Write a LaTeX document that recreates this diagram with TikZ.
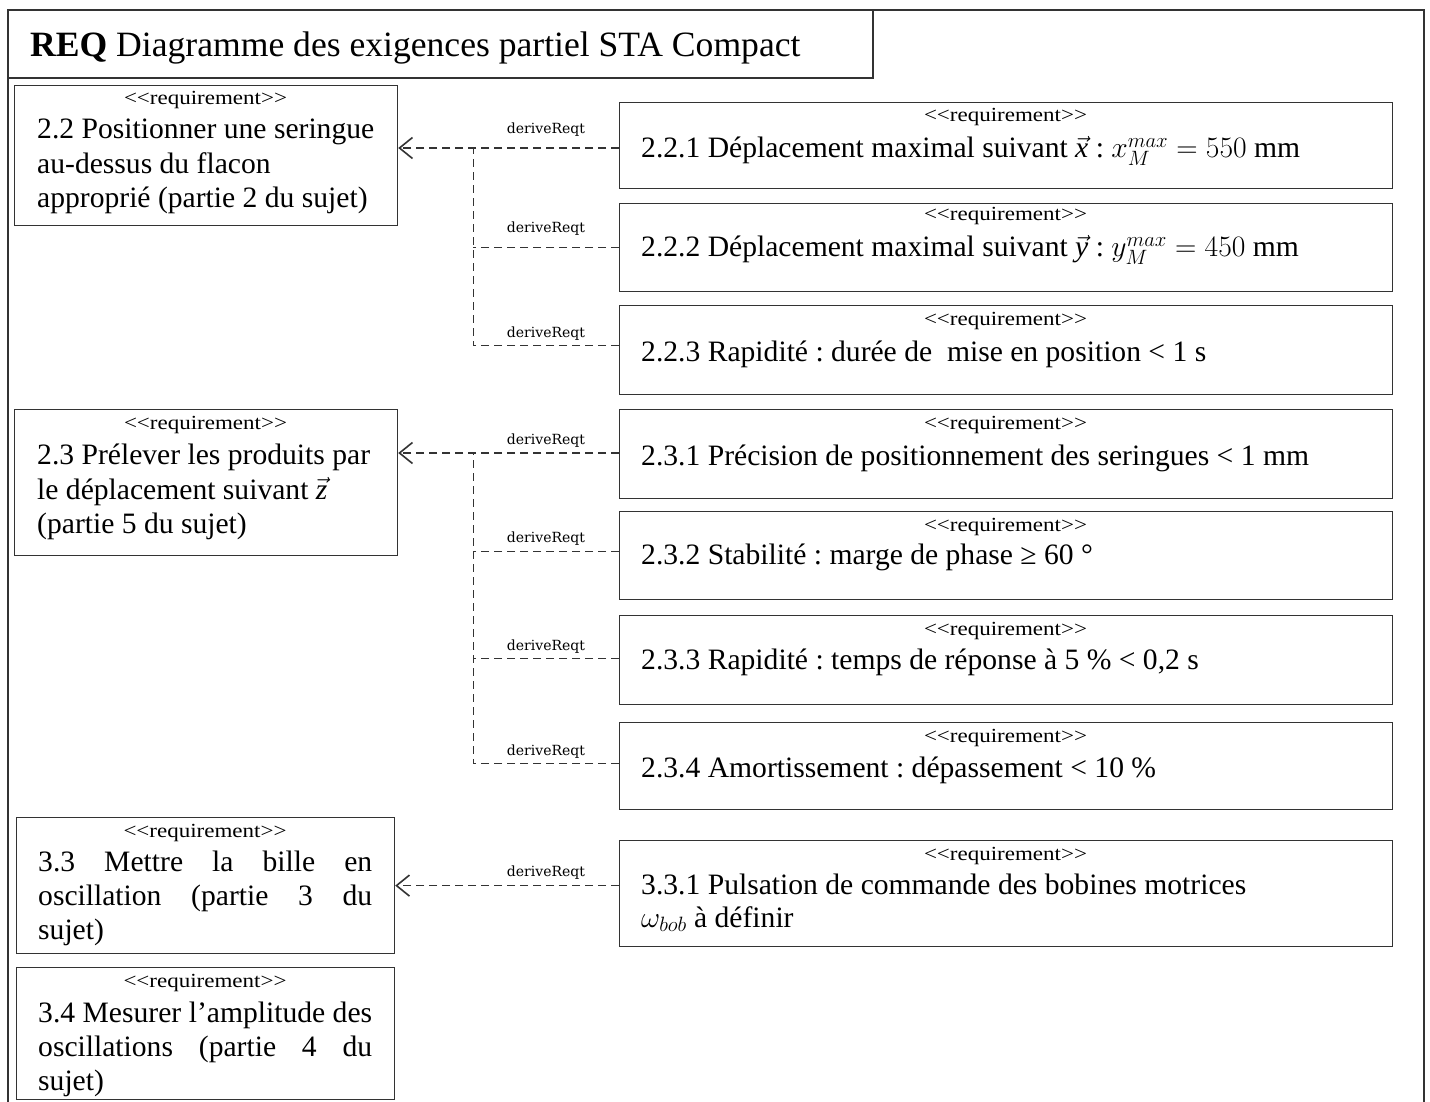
\RequirePackage{fix-cm}
\documentclass[tikz,border=0pt]{standalone}
\usepackage{fontspec}
\setmainfont{Liberation Serif}
\newfontfamily\stereofont[FakeStretch=1.15]{Liberation Serif}
\newfontfamily\linkfont{DejaVu Serif}
\usetikzlibrary{arrows.meta,calc}
\frenchspacing

\tikzset{
  framepen/.style={draw=black!80, line width=1.2pt},
  reqbox/.style={draw=black!80, line width=1.2pt, rectangle, inner sep=0pt, anchor=north west},
  stereo/.style={inner sep=0pt, anchor=base, font=\stereofont\fontsize{20}{24}\selectfont},
  reqtext/.style={inner sep=0pt, anchor=base west, font=\fontsize{29.6}{35}\selectfont},
  deprel/.style={draw=black!80, line width=1.3pt, dash pattern=on 8pt off 5pt},
  deptip/.style={deprel, -{Straight Barb[length=13pt,width=21pt,line width=1.6pt]}},
  branch/.style={draw=black!80, line width=0.9pt, dash pattern=on 8pt off 5pt},
  linklabel/.style={inner sep=0pt, anchor=base, font=\linkfont\fontsize{14}{16}\selectfont},
}

\begin{document}
\begin{tikzpicture}[x=1pt,y=-1pt]
\useasboundingbox (0,0) rectangle (1430,1102);
\fill[white] (0,0) rectangle (1430,1102);

% outer frame and title tab
\draw[framepen] (8,1102) -- (8,10) -- (1424,10) -- (1424,1102);
\draw[framepen] (8,78) -- (873,78) -- (873,10);
\node[inner sep=0pt, anchor=base west, font=\fontsize{35.6}{40}\selectfont] (title) at (30,57)
  {\textbf{REQ} Diagramme des exigences partiel STA Compact};

% parent requirements (left column)
\node[reqbox, minimum width=383pt, minimum height=140pt] (b22) at (14,85) {};
\node[reqbox, minimum width=383pt, minimum height=146pt] (b23) at (14,409) {};
\node[reqbox, minimum width=378pt, minimum height=136pt] (b33) at (16,817) {};
\node[reqbox, minimum width=378pt, minimum height=132pt] (b34) at (16,967) {};

% derived requirements (right column)
\node[reqbox, minimum width=773pt, minimum height=86pt]  (b221) at (619,102) {};
\node[reqbox, minimum width=773pt, minimum height=88pt]  (b222) at (619,203) {};
\node[reqbox, minimum width=773pt, minimum height=89pt]  (b223) at (619,305) {};
\node[reqbox, minimum width=773pt, minimum height=89pt]  (b231) at (619,409) {};
\node[reqbox, minimum width=773pt, minimum height=88pt]  (b232) at (619,511) {};
\node[reqbox, minimum width=773pt, minimum height=89pt]  (b233) at (619,615) {};
\node[reqbox, minimum width=773pt, minimum height=87pt]  (b234) at (619,722) {};
\node[reqbox, minimum width=773pt, minimum height=106pt] (b331) at (619,840) {};

% texts of the left column
\node[stereo] (s22) at (205.5,105) {<<requirement>>};
\node[reqtext] (t22a) at (37,139) {2.2 Positionner une seringue};
\node[reqtext] (t22b) at (37,174) {au-dessus du flacon};
\node[reqtext] (t22c) at (37,208) {approprié (partie 2 du sujet)};

\node[stereo] (s23) at (205.5,429) {<<requirement>>};
\node[reqtext] (t23a) at (37,464) {2.3 Prélever les produits par};
\node[reqtext] (t23b) at (37,499) {le déplacement suivant $\vec{\mathit{z}}$};
\node[reqtext] (t23c) at (37,533) {(partie 5 du sujet)};

\node[stereo] (s33) at (205,837) {<<requirement>>};
\node[reqtext] (t33a) at (38,871) {\makebox[334pt][s]{3.3 Mettre la bille en}};
\node[reqtext] (t33b) at (38,905) {\makebox[334pt][s]{oscillation (partie 3 du}};
\node[reqtext] (t33c) at (38,939) {sujet)};

\node[stereo] (s34) at (205,987) {<<requirement>>};
\node[reqtext] (t34a) at (38,1022) {\makebox[334pt][s]{3.4 Mesurer l’amplitude des}};
\node[reqtext] (t34b) at (38,1056) {\makebox[334pt][s]{oscillations (partie 4 du}};
\node[reqtext] (t34c) at (38,1090) {sujet)};

% texts of the right column
\node[stereo] (s221) at (1005.5,122) {<<requirement>>};
\node[reqtext] (t221) at (641,158) {2.2.1 Déplacement maximal suivant $\vec{\mathit{x}}$ : $x_M^{max} = 550\ \mathrm{mm}$};
\node[stereo] (s222) at (1005.5,221) {<<requirement>>};
\node[reqtext] (t222) at (641,257) {2.2.2 Déplacement maximal suivant $\vec{\mathit{y}}$ : $y_M^{max} = 450\ \mathrm{mm}$};
\node[stereo] (s223) at (1005.5,325) {<<requirement>>};
\node[reqtext] (t223) at (641,361) {2.2.3 Rapidité : durée de\ \ mise en position < 1 s};
\node[stereo] (s231) at (1005.5,429) {<<requirement>>};
\node[reqtext] (t231) at (641,465) {2.3.1 Précision de positionnement des seringues < 1 mm};
\node[stereo] (s232) at (1005.5,531) {<<requirement>>};
\node[reqtext] (t232) at (641,564) {2.3.2 Stabilité : marge de phase ≥ 60 °};
\node[stereo] (s233) at (1005.5,635) {<<requirement>>};
\node[reqtext] (t233) at (641,669) {2.3.3 Rapidité : temps de réponse à 5 \% < 0,2 s};
\node[stereo] (s234) at (1005.5,742) {<<requirement>>};
\node[reqtext] (t234) at (641,777) {2.3.4 Amortissement : dépassement < 10 \%};
\node[stereo] (s331) at (1005.5,860) {<<requirement>>};
\node[reqtext] (t331a) at (641,894) {3.3.1 Pulsation de commande des bobines motrices};
\node[reqtext] (t331b) at (641,927) {$\omega_{bob}$ à définir};

% deriveReqt links of 2.2
\coordinate (j22) at (473,148);
\coordinate (p222) at (b222.west);
\coordinate (p223) at ([yshift=4.5pt]b223.west);
\draw[branch] (p223) -| (j22);
\draw[branch] (p222) -- (j22 |- p222);
\draw[deptip] (b221.west |- j22) -- (b22.east |- j22);
\node[linklabel] (l221) at (546,134) {deriveReqt};
\node[linklabel] (l222) at (546,233) {deriveReqt};
\node[linklabel] (l223) at (546,337) {deriveReqt};

% deriveReqt links of 2.3
\coordinate (j23) at (473,453);
\coordinate (p232) at ([yshift=4pt]b232.west);
\coordinate (p233) at ([yshift=1.5pt]b233.west);
\coordinate (p234) at ([yshift=2.5pt]b234.west);
\draw[branch] (p234) -| (j23);
\draw[branch] (p232) -- (j23 |- p232);
\draw[branch] (p233) -- (j23 |- p233);
\draw[deptip] (b231.west |- j23) -- (b23.east |- j23);
\node[linklabel] (l231) at (546,444) {deriveReqt};
\node[linklabel] (l232) at (546,542) {deriveReqt};
\node[linklabel] (l233) at (546,650) {deriveReqt};
\node[linklabel] (l234) at (546,755) {deriveReqt};

% deriveReqt link of 3.3
\draw[deptip] (b331.west |- b33.east) -- (b33.east);
\node[linklabel] (l331) at (546,876) {deriveReqt};
\end{tikzpicture}
\end{document}
